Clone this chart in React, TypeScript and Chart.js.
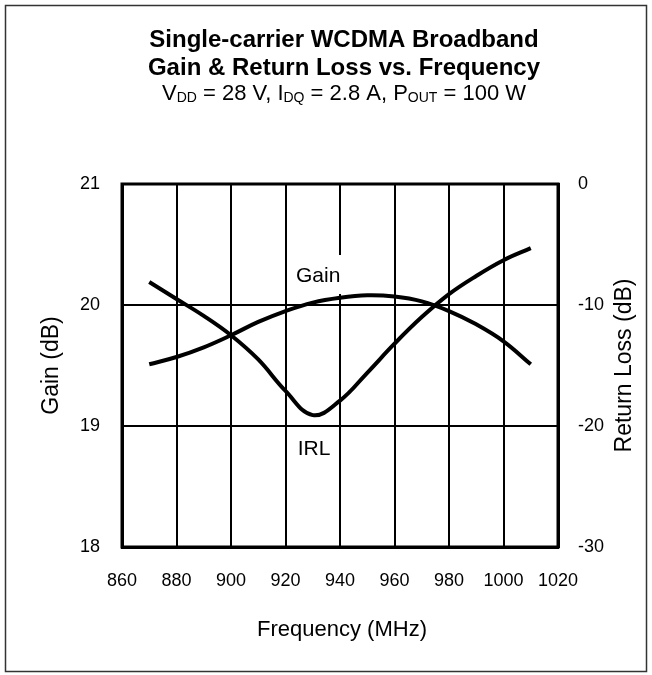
import React, { useEffect, useRef } from 'react';
import { Chart, registerables } from 'chart.js';

Chart.register(...registerables);

// ---------- data ----------
const frequencyMHz = [870, 880, 890, 900, 910, 920, 930, 940, 950, 960, 970, 980, 990, 1000, 1010];
const gainDb = [19.51, 19.57, 19.65, 19.75, 19.86, 19.95, 20.02, 20.06, 20.08, 20.07, 20.03, 19.95, 19.84, 19.70, 19.51];
const irlDb = [-8.1, -9.5, -10.9, -12.5, -14.5, -17.1, -19.1, -17.9, -15.6, -13.2, -11.0, -9.1, -7.6, -6.3, -5.3];

const xTickValues = [860, 880, 900, 920, 940, 960, 980, 1000, 1020];
const gainTickValues = [18, 19, 20, 21];
const rlTickValues = [-30, -20, -10, 0];

const titleLines = ['Single-carrier WCDMA Broadband', 'Gain & Return Loss vs. Frequency'];
const subtitleParts: { t: string; sub: boolean }[] = [
  { t: 'V', sub: false },
  { t: 'DD', sub: true },
  { t: ' = 28 V, I', sub: false },
  { t: 'DQ', sub: true },
  { t: ' = 2.8 A, P', sub: false },
  { t: 'OUT', sub: true },
  { t: ' = 100 W', sub: false },
];
const xTitle = 'Frequency (MHz)';
const yTitle = 'Gain (dB)';
const y2Title = 'Return Loss (dB)';

// curve annotations (anchor in data units)
const curveLabels = [
  { text: 'Gain', freq: 932.0, value: 20.19, axis: 'y', box: true },
  { text: 'IRL', freq: 930.5, value: -22.4, axis: 'y2', box: false },
];

// ---------- styling ----------
const FONT = '"Liberation Sans", Arial, Helvetica, sans-serif';
const W = 652;
const H = 675;

const textPlugin = {
  id: 'customText',
  beforeDatasetsDraw(chart: any) {
    const { ctx, chartArea: a, scales } = chart;
    ctx.save();
    ctx.strokeStyle = '#000';
    ctx.lineWidth = 3;
    ctx.strokeRect(a.left, a.top, a.right - a.left, a.bottom - a.top);
    ctx.font = `21px ${FONT}`;
    ctx.textAlign = 'center';
    ctx.textBaseline = 'alphabetic';
    for (const l of curveLabels) {
      const x = scales.x.getPixelForValue(l.freq);
      const y = scales[l.axis].getPixelForValue(l.value);
      const w = ctx.measureText(l.text).width;
      if (l.box) {
        ctx.fillStyle = '#fff';
        ctx.fillRect(x - w / 2 - 4, y - 27, w + 8, 39);
      }
      ctx.fillStyle = '#000';
      ctx.fillText(l.text, x, y);
    }
    ctx.restore();
  },
  afterDraw(chart: any) {
    const { ctx, chartArea: a } = chart;
    ctx.save();
    // outer border
    ctx.strokeStyle = '#333';
    ctx.lineWidth = 1.5;
    ctx.strokeRect(5.5, 5.5, 641, 666);

    ctx.fillStyle = '#000';
    ctx.textAlign = 'center';
    ctx.textBaseline = 'alphabetic';
    const cx = 344;
    ctx.font = `bold 24px ${FONT}`;
    ctx.fillText(titleLines[0], cx, 47);
    ctx.fillText(titleLines[1], cx, 75);

    // subtitle with subscripts
    const mainFont = `22px ${FONT}`;
    const subFont = `14px ${FONT}`;
    let total = 0;
    for (const p of subtitleParts) {
      ctx.font = p.sub ? subFont : mainFont;
      total += ctx.measureText(p.t).width;
    }
    let x = cx - total / 2;
    ctx.textAlign = 'left';
    for (const p of subtitleParts) {
      ctx.font = p.sub ? subFont : mainFont;
      ctx.fillText(p.t, x, p.sub ? 102 : 100);
      x += ctx.measureText(p.t).width;
    }

    // axis titles
    const midY = (a.top + a.bottom) / 2;
    ctx.textAlign = 'center';
    ctx.textBaseline = 'middle';
    ctx.font = `22px ${FONT}`;
    ctx.fillText(xTitle, (a.left + a.right) / 2 + 2, 630);

    ctx.font = `23px ${FONT}`;
    ctx.save();
    ctx.translate(52, midY);
    ctx.rotate(-Math.PI / 2);
    ctx.fillText(yTitle, 0, 0);
    ctx.restore();

    ctx.save();
    ctx.translate(625, midY);
    ctx.rotate(-Math.PI / 2);
    ctx.fillText(y2Title, 0, 0);
    ctx.restore();

    ctx.restore();
  },
};

export default function App() {
  const ref = useRef<HTMLCanvasElement | null>(null);

  useEffect(() => {
    if (!ref.current) return;
    const tickFont = { family: FONT, size: 18 };
    const chart = new Chart(ref.current, {
      type: 'line',
      data: {
        datasets: [
          {
            label: 'Gain',
            data: frequencyMHz.map((f, i) => ({ x: f, y: gainDb[i] })),
            yAxisID: 'y',
            borderColor: '#000',
            borderWidth: 4,
            pointRadius: 0,
            tension: 0.4,
            fill: false,
          },
          {
            label: 'IRL',
            data: frequencyMHz.map((f, i) => ({ x: f, y: irlDb[i] })),
            yAxisID: 'y2',
            borderColor: '#000',
            borderWidth: 4,
            pointRadius: 0,
            tension: 0.4,
            fill: false,
          },
        ],
      },
      options: {
        responsive: false,
        maintainAspectRatio: false,
        animation: false,
        devicePixelRatio: 1,
        layout: { padding: { top: 184, left: 0, right: 0, bottom: 0 } },
        plugins: { legend: { display: false }, tooltip: { enabled: false }, title: { display: false } },
        scales: {
          x: {
            type: 'linear',
            position: 'bottom',
            min: 860,
            max: 1020,
            afterBuildTicks: (s: any) => { s.ticks = xTickValues.map((v) => ({ value: v })); },
            afterFit: (s: any) => { s.height = 128; },
            ticks: {
              font: tickFont,
              color: '#000',
              padding: 23,
              maxRotation: 0,
              autoSkip: false,
              callback: (v: any) => String(v),
            },
            grid: { color: '#000', lineWidth: 2, drawTicks: false },
            border: { display: true, color: '#000', width: 3 },
          },
          y: {
            type: 'linear',
            position: 'left',
            min: 18,
            max: 21,
            afterBuildTicks: (s: any) => { s.ticks = gainTickValues.map((v) => ({ value: v })); },
            afterFit: (s: any) => { s.width = 122; },
            ticks: { font: tickFont, color: '#000', padding: 22, callback: (v: any) => String(v) },
            grid: { color: '#000', lineWidth: 2, drawTicks: false },
            border: { display: true, color: '#000', width: 3 },
          },
          y2: {
            type: 'linear',
            position: 'right',
            min: -30,
            max: 0,
            afterBuildTicks: (s: any) => { s.ticks = rlTickValues.map((v) => ({ value: v })); },
            afterFit: (s: any) => { s.width = 94; },
            ticks: { font: tickFont, color: '#000', padding: 20, callback: (v: any) => String(v) },
            grid: { display: false, drawTicks: false },
            border: { display: true, color: '#000', width: 3 },
          },
        },
      },
      plugins: [textPlugin],
    } as any);
    return () => chart.destroy();
  }, []);

  return (
    <div style={{ position: 'fixed', left: 0, top: 0, width: W, height: H, background: '#fff' }}>
      <canvas ref={ref} width={W} height={H} style={{ display: 'block', width: W, height: H }} />
    </div>
  );
}
